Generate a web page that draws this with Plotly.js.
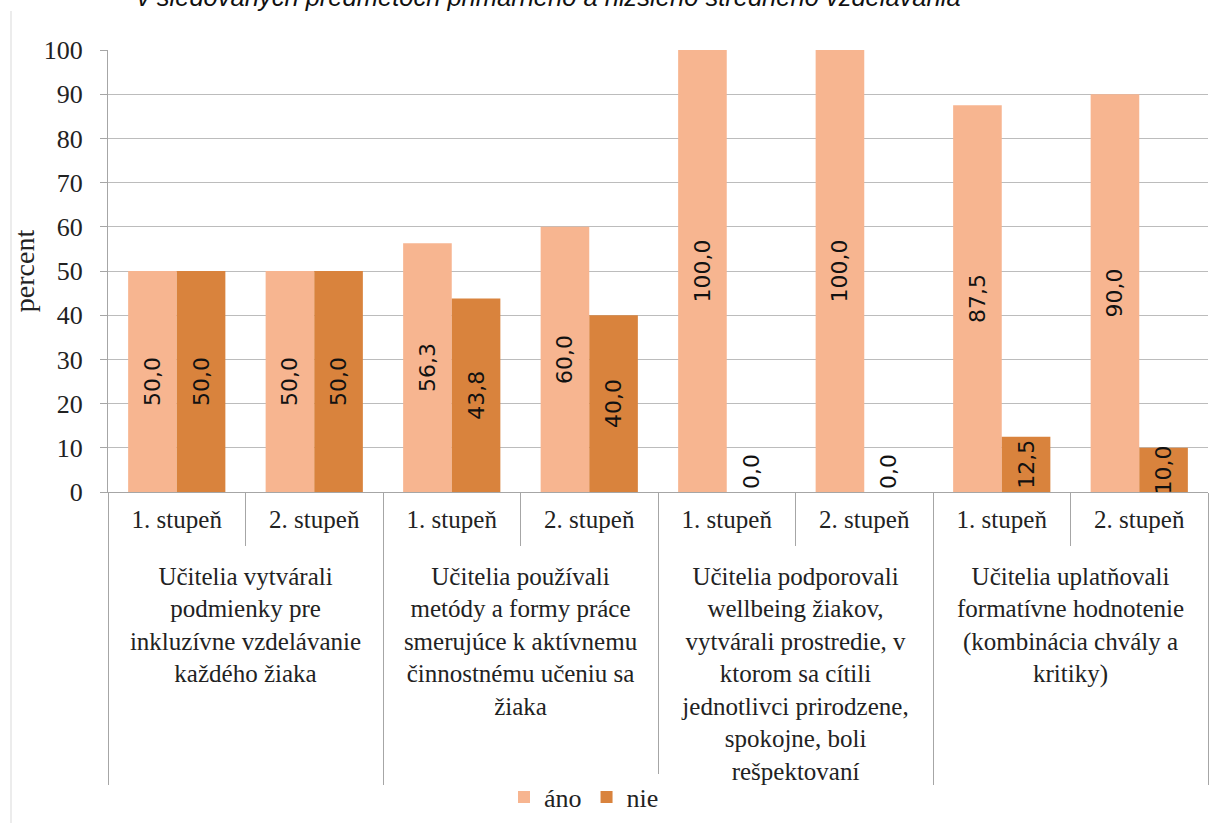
<!DOCTYPE html>
<html>
<head>
<meta charset="utf-8">
<script src="https://cdn.plot.ly/plotly-3.0.1.min.js"></script>
<style>html,body{margin:0;padding:0;background:#fff;}#chart{width:1211px;height:823px;}</style>
</head>
<body>
<div id="chart"></div>
<script>
const groups = [
  "Učitelia vytvárali<br>podmienky pre<br>inkluzívne vzdelávanie<br>každého žiaka",
  "Učitelia používali<br>metódy a formy práce<br>smerujúce k aktívnemu<br>činnostnému učeniu sa<br>žiaka",
  "Učitelia podporovali<br>wellbeing žiakov,<br>vytvárali prostredie, v<br>ktorom sa cítili<br>jednotlivci prirodzene,<br>spokojne, boli<br>rešpektovaní",
  "Učitelia uplatňovali<br>formatívne hodnotenie<br>(kombinácia chvály a<br>kritiky)"
];
const levels = ["1. stupeň", "2. stupeň"];
const seriesNames = ["áno", "nie"];
const anoValues = [50.0, 50.0, 56.3, 60.0, 100.0, 100.0, 87.5, 90.0];
const nieValues = [50.0, 50.0, 43.8, 40.0, 0.0, 0.0, 12.5, 10.0];
const colors = ["#F7B590", "#D9833D"];
const titleText = "v sledovaných predmetoch primárneho a nižšieho stredného vzdelávania";
const yTitle = "percent";

const outer = [], inner = [];
groups.forEach(g => levels.forEach(l => { outer.push(g); inner.push(l + "<br> "); }));

function mk(name, vals, color) {
  return {
    type: "bar",
    name: name,
    x: [outer, inner],
    y: vals,
    marker: {color: color, line: {width: 0}},
    texttemplate: "%{y:.1f}",
    textposition: vals.map(v => v === 0 ? "outside" : "inside"),
    insidetextanchor: "middle",
    textangle: -90,
    constraintext: "none",
    cliponaxis: false,
    textfont: {family: "DejaVu Sans", size: 22, color: "#111"},
    insidetextfont: {family: "DejaVu Sans", size: 22, color: "#111"},
    outsidetextfont: {family: "DejaVu Sans", size: 22, color: "#111"},
    hoverinfo: "skip"
  };
}

const data = [mk(seriesNames[0], anoValues, colors[0]), mk(seriesNames[1], nieValues, colors[1])];

const PT = 50, PB = 492, PL = 108, PR = 1208;
const ph = PB - PT, pw = PR - PL;
const py = px => (PB - px) / ph;
const pxx = px => (px - PL) / pw;

const layout = {
  width: 1211, height: 823,
  margin: {l: PL, r: 1211 - PR, t: PT, b: 823 - PB},
  paper_bgcolor: "#fff", plot_bgcolor: "#fff",
  separators: ", ",
  barmode: "group",
  bargap: 0.293,
  bargroupgap: 0,
  showlegend: true,
  legend: {orientation: "h", x: pxx(584), xanchor: "center", y: py(797), yanchor: "middle",
           font: {family: "Liberation Serif", size: 26, color: "#222"}, itemclick: false, traceorder: "normal"},
  xaxis: {
    type: "multicategory",
    showgrid: false,
    showline: true, linecolor: "#a6a6a6", linewidth: 1,
    ticks: "outside", tickson: "boundaries", ticklen: 53, tickcolor: "#a6a6a6", tickwidth: 1,
    showdividers: true, dividercolor: "#a6a6a6", dividerwidth: 1,
    ticklabelstandoff: 5,
    tickfont: {family: "Liberation Serif", size: 25, color: "#222"},
    automargin: false, fixedrange: true
  },
  yaxis: {
    range: [0, 100], dtick: 10, tick0: 0,
    showgrid: true, gridcolor: "#bcbcbc", gridwidth: 1,
    showline: true, linecolor: "#a6a6a6", linewidth: 1,
    ticks: "outside", ticklen: 7, tickcolor: "#a6a6a6",
    ticklabelstandoff: 12,
    zeroline: false,
    tickfont: {family: "Liberation Serif", size: 26, color: "#222"},
    title: {text: yTitle, font: {family: "Liberation Serif", size: 28, color: "#222"}, standoff: 0},
    automargin: false, fixedrange: true
  },
  annotations: [{
    text: titleText, showarrow: false,
    xref: "paper", yref: "paper", x: pxx(135), xanchor: "left",
    y: py(12.5), yanchor: "bottom",
    font: {family: "Liberation Sans", size: 25.5, color: "#111", style: "italic"}
  }],
  shapes: [{
    type: "line", xref: "paper", yref: "paper",
    x0: pxx(11), x1: pxx(11), y0: py(11), y1: py(823),
    line: {color: "#d9d9d9", width: 1}
  }]
};

Plotly.newPlot("chart", data, layout, {displayModeBar: false, staticPlot: true});
</script>
</body>
</html>
